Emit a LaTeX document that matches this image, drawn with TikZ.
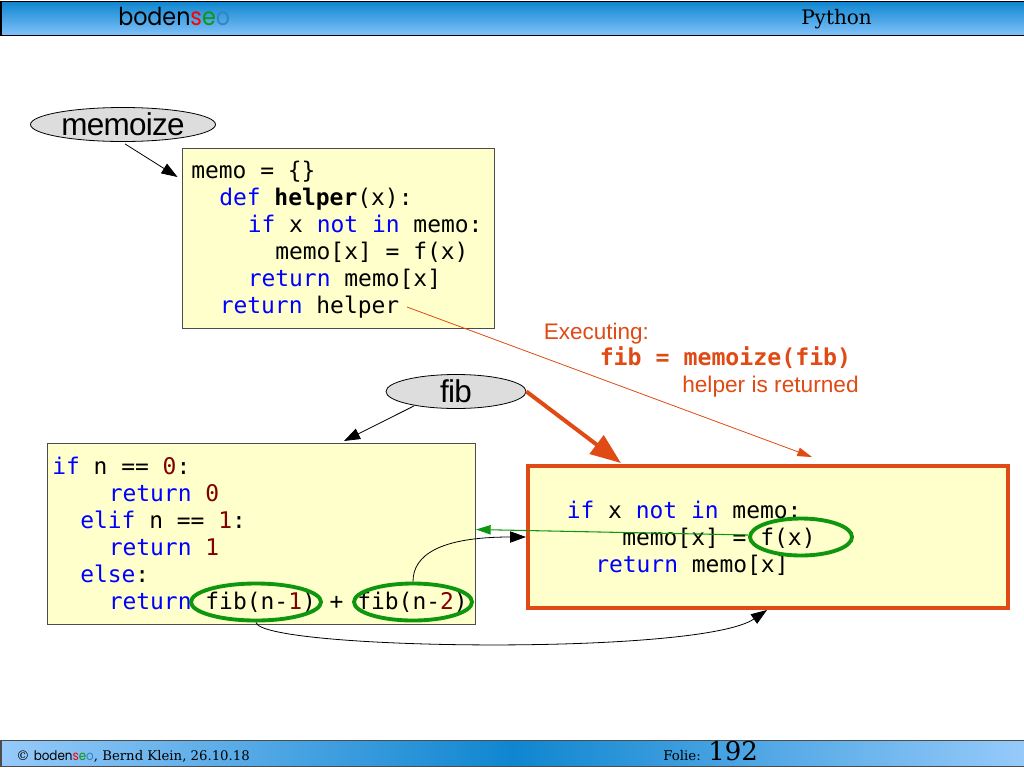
\documentclass[tikz,border=0pt]{standalone}
\usepackage{fontspec}
\setmainfont{Liberation Sans}
\newfontfamily\codefont{DejaVu Sans Mono}
\newfontfamily\logofont[FakeStretch=0.9]{Poppins}
\newfontfamily\slidefont{DejaVu Serif}
\newfontfamily\ovalfont[LetterSpace=-2.4]{Liberation Sans}
\usetikzlibrary{arrows.meta,shapes.geometric,calc}
\definecolor{boxyellow}{HTML}{FFFFCC}
\definecolor{ovalgray}{HTML}{DDDDDD}
\definecolor{hot}{HTML}{E04A14}
\definecolor{ringgreen}{HTML}{0F960F}
\definecolor{numred}{HTML}{800000}
\definecolor{barA}{HTML}{0F86D0}
\definecolor{barB}{HTML}{82C2FA}
\definecolor{barC}{HTML}{96CAFA}
\newcommand{\kw}[1]{\textcolor{blue}{#1}}
\newcommand{\nm}[1]{\textcolor{numred}{#1}}
\newcommand{\logoword}{boden\textcolor{red}{s}\textcolor{ringgreen}{e}\textcolor[HTML]{2F86C0}{o}}
\tikzset{
  codeline/.style={anchor=base west,inner sep=0pt,font=\codefont\fontsize{17.2}{20}\selectfont,text=black},
  codebox/.style={draw=black!70,fill=boxyellow,line width=0.75pt,inner sep=0pt,anchor=north west},
  hotbox/.style={draw=hot,fill=boxyellow,line width=3pt,inner sep=0pt,anchor=north west},
  oval/.style={ellipse,draw=black,fill=ovalgray,line width=0.6pt,inner sep=0pt,font=\ovalfont\fontsize{23.6}{26}\selectfont,text=black},
  ring/.style={ellipse,draw=ringgreen,line width=2.9pt,inner sep=0pt},
  link/.style={draw=black,line width=0.6pt,-{Triangle[length=12pt,width=8.5pt]}},
  hotlink/.style={draw=hot,line width=3pt,-{Triangle[length=23pt,width=17pt]}},
  hotthin/.style={draw=hot,line width=0.6pt,-{Triangle[length=11pt,width=6.5pt,fill=hot]}},
  greenlink/.style={draw=ringgreen,line width=0.8pt,-{Triangle[length=11pt,width=7pt]}},
  note/.style={anchor=base west,inner sep=0pt,text=hot,font=\fontsize{16.9}{20}\selectfont},
  barlabel/.style={anchor=base west,inner sep=0pt,text=black},
}
\begin{document}
\begin{tikzpicture}[x=0.75pt,y=-0.75pt]
\useasboundingbox (0,0) rectangle (1024,768);
\fill[white] (0,0) rectangle (1024,768);

% header and footer bars
\node[draw=black,line width=0.9pt,top color=barA,bottom color=barB,minimum width=1023*0.75pt,minimum height=34*0.75pt,inner sep=0pt,anchor=north west] (head) at (0.5,1) {};
\node[barlabel,font=\logofont\fontsize{18.5}{20}\selectfont] (logo) at (118,25) {\logoword};
\node[barlabel,font=\slidefont\fontsize{15}{16}\selectfont] (topic) at (801,24) {Python};

\node[draw=black!70,line width=0.9pt,left color=barC,right color=barC,middle color=barA,minimum width=1023*0.75pt,minimum height=26*0.75pt,inner sep=0pt,anchor=north west] (foot) at (0.5,740) {};
\node[barlabel,font=\slidefont\fontsize{9.95}{11}\selectfont] (credit) at (16,760) {© {\logofont\logoword}, Bernd Klein, 26.10.18};
\node[barlabel,font=\slidefont\fontsize{10}{11}\selectfont] (folie) at (663,760) {Folie:};
\node[barlabel,font=\slidefont\fontsize{19.5}{22}\selectfont] (pagenum) at (708,760) {192};

% memoize code box
\node[codebox,minimum width=312.5*0.75pt,minimum height=180*0.75pt] (memobox) at (181.5,148) {};
\node[codeline] (m1) at (191,178) {memo = \{\}};
\node[codeline] (m2) at (219,205.5) {\kw{def} \textbf{helper}(x):};
\node[codeline] (m3) at (247.5,232) {\kw{if} x \kw{not} \kw{in} memo:};
\node[codeline] (m4) at (275,259) {memo[x] = f(x)};
\node[codeline] (m5) at (247.5,286) {\kw{return} memo[x]};
\node[codeline] (m6) at (219.5,313) {\kw{return} helper};

% fib code box
\node[codebox,minimum width=428*0.75pt,minimum height=181*0.75pt] (fibbox) at (47,443) {};
\node[codeline] (f1) at (52,474) {\kw{if} n == \nm{0}:};
\node[codeline] (f2) at (108.5,501) {\kw{return} \nm{0}};
\node[codeline] (f3) at (80,528) {\kw{elif} n == \nm{1}:};
\node[codeline] (f4) at (108.5,555) {\kw{return} \nm{1}};
\node[codeline] (f5) at (80,582) {\kw{else}:};
\node[codeline] (f6) at (108.5,609) {\kw{return} fib(n-\nm{1}) + fib(n-\nm{2})};

% helper box
\node[hotbox,minimum width=480*0.75pt,minimum height=142*0.75pt] (helperbox) at (526,464) {};
\node[codeline] (h1) at (566.5,518) {\kw{if} x \kw{not} \kw{in} memo:};
\node[codeline] (h2) at (622,545) {memo[x] = f(x)};
\node[codeline] (h3) at (595,572) {\kw{return} memo[x]};

% ovals
\node[oval,minimum width=185*0.75pt,minimum height=34*0.75pt] (memoize) at (123,124.5) {memoize};
\node[oval,minimum width=140*0.75pt,minimum height=34*0.75pt] (fib) at (456,391.5) {fib};

% rings
\node[ring,minimum width=130*0.75pt,minimum height=37*0.75pt] (callA) at (256,602) {};
\node[ring,minimum width=118*0.75pt,minimum height=37*0.75pt] (callB) at (413,602) {};
\node[ring,minimum width=102*0.75pt,minimum height=37*0.75pt] (callF) at (801,537) {};

% free ends
\coordinate (helperword) at (407,307);

% annotation
\node[note] (exec) at (543.5,339) {Executing:};
\node[note,font=\codefont\bfseries\fontsize{17.4}{20}\selectfont] (assign) at (599.5,365) {fib = memoize(fib)};
\node[note,font=\fontsize{17}{20}\selectfont] (returned) at (682,392) {helper is returned};

% connectors
\draw[link] (memoize.south) ++(2,2) -- ([shift={(-4,29)}]memobox.north west);
\draw[link] (fib.south west) ++(8,2) -- ([shift={(297,-2)}]fibbox.north west);
\draw[hotlink] (fib.east) -- ([shift={(95,-1)}]helperbox.north west);
\draw[hotthin] (helperword) -- ([shift={(286,-7)}]helperbox.north west);
\draw[link] (callB.north) .. controls (413,555) and (440,537) .. (helperbox.west);
\draw[greenlink] (callF.west) ++(0,-2) -- ([shift={(0,-4.5)}]fibbox.east);
\draw[link] (callA.south) .. controls (262,650) and (700,656) .. ([shift={(241,0)}]helperbox.south west);
\end{tikzpicture}
\end{document}
